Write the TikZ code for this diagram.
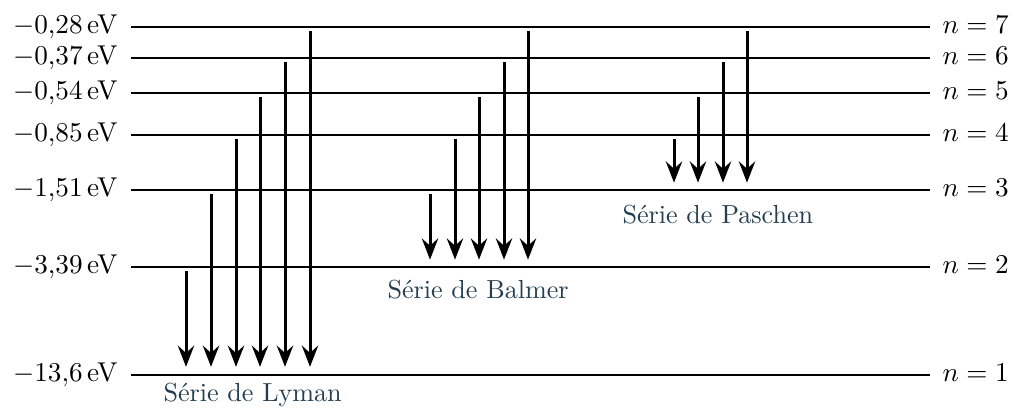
\documentclass[tikz,border=0pt]{standalone}
\usepackage{fontspec}
\usetikzlibrary{arrows.meta}
\definecolor{serieblue}{RGB}{36,62,80}
\begin{document}
\begin{tikzpicture}[x=0.3676pt,y=-0.3676pt,
  level/.style={line width=0.9pt},
  trans/.style={line width=1.1pt,-{Stealth[length=7.8pt,width=6pt,inset=2.7pt]}},
  elabel/.style={anchor=base east,inner sep=0pt,yshift=-2.5pt},
  nlabel/.style={anchor=base west,inner sep=0pt,yshift=-2.5pt},
  slabel/.style={anchor=base west,inner sep=0pt,text=serieblue,font=\fontsize{9.6}{11}\selectfont}]
\useasboundingbox (0,0) rectangle (1014,409);
% levels
\foreach \n/\y/\e in {1/375/{$-13{,}6\,$eV},2/267/{$-3{,}39\,$eV},3/190/{$-1{,}51\,$eV},4/135/{$-0{,}85\,$eV},5/93/{$-0{,}54\,$eV},6/58/{$-0{,}37\,$eV},7/27/{$-0{,}28\,$eV}}{
  \coordinate (a\n) at (131,\y);
  \coordinate (b\n) at (930,\y);
  \draw[level] (a\n) -- (b\n);
  \node[elabel] (e\n) at (118,\y) {\e};
  \node[nlabel] (n\n) at (942,\y) {$n=\n$};
}
% Lyman
\foreach \k/\x in {2/186,3/211,4/236,5/260,6/285,7/310}{
  \coordinate (ls\k) at (\x,0|-a\k);
  \coordinate (le\k) at (\x,0|-a1);
  \draw[trans] ([yshift=-1.5pt]ls\k) -- ([yshift=3pt]le\k);
}
% Balmer
\foreach \k/\x in {3/430,4/455,5/479,6/504,7/528}{
  \coordinate (bs\k) at (\x,0|-a\k);
  \coordinate (be\k) at (\x,0|-a2);
  \draw[trans] ([yshift=-1.5pt]bs\k) -- ([yshift=2.7pt]be\k);
}
% Paschen
\foreach \k/\x in {4/674,5/698,6/723,7/747}{
  \coordinate (ps\k) at (\x,0|-a\k);
  \coordinate (pe\k) at (\x,0|-a3);
  \draw[trans] ([yshift=-1.5pt]ps\k) -- ([yshift=2.7pt]pe\k);
}
\node[slabel] (lyman) at (163,401) {Série de Lyman};
\node[slabel] (balmer) at (387,298) {Série de Balmer};
\node[slabel] (paschen) at (622,223) {Série de Paschen};
\end{tikzpicture}
\end{document}
